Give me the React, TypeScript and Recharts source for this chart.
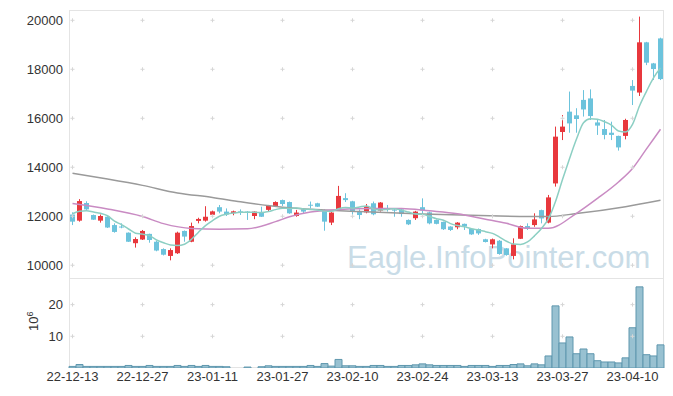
import React from 'react';
import { ComposedChart, BarChart, Bar, Line, XAxis, YAxis, ReferenceDot } from 'recharts';

// trading days, 22-12-13 .. 23-04-14
const dates = [
  '22-12-13', '22-12-14', '22-12-15', '22-12-16', '22-12-19', '22-12-20', '22-12-21', '22-12-22', '22-12-23', '22-12-26',
  '22-12-27', '22-12-28', '22-12-29', '23-01-02', '23-01-03', '23-01-04', '23-01-05', '23-01-06', '23-01-09', '23-01-10',
  '23-01-11', '23-01-12', '23-01-13', '23-01-16', '23-01-17', '23-01-18', '23-01-19', '23-01-20', '23-01-25', '23-01-26',
  '23-01-27', '23-01-30', '23-01-31', '23-02-01', '23-02-02', '23-02-03', '23-02-06', '23-02-07', '23-02-08', '23-02-09',
  '23-02-10', '23-02-13', '23-02-14', '23-02-15', '23-02-16', '23-02-17', '23-02-20', '23-02-21', '23-02-22', '23-02-23',
  '23-02-24', '23-02-27', '23-02-28', '23-03-02', '23-03-03', '23-03-06', '23-03-07', '23-03-08', '23-03-09', '23-03-10',
  '23-03-13', '23-03-14', '23-03-15', '23-03-16', '23-03-17', '23-03-20', '23-03-21', '23-03-22', '23-03-23', '23-03-24',
  '23-03-27', '23-03-28', '23-03-29', '23-03-30', '23-03-31', '23-04-03', '23-04-04', '23-04-05', '23-04-06', '23-04-07',
  '23-04-10', '23-04-11', '23-04-12', '23-04-13', '23-04-14',
];

const opens = [
  12070, 11820, 12540, 12050, 11820, 11980, 11640, 11580, 11330, 10900,
  11050, 11280, 10960, 10660, 10380, 10490, 11400, 10960, 11810, 11820,
  12060, 12370, 12190, 12130, 12200, 12190, 12010, 12160, 12260, 12420,
  12660, 12580, 12010, 12280, 12470, 12530, 12230, 11740, 12280, 12740,
  12610, 12190, 12160, 12530, 12230, 12310, 12270, 12280, 11850, 11920,
  12370, 12160, 11850, 11770, 11580, 11550, 11690, 11480, 11480, 11060,
  10850, 11000, 10690, 10380, 11080, 11600, 11640, 12250, 11740, 13340,
  15440, 16270, 16120, 16750, 16810, 15830, 15560, 15410, 15280, 15280,
  17320, 17050, 19100, 18240, 19260,
];
const highs = [
  12160, 12700, 12610, 12070, 12070, 12000, 11710, 11710, 11340, 11140,
  11440, 11290, 10990, 10690, 10690, 11370, 11420, 11740, 11940, 12410,
  12230, 12460, 12320, 12230, 12280, 12210, 12200, 12390, 12460, 12610,
  12680, 12600, 12260, 12320, 12600, 12550, 12280, 12170, 13240, 12940,
  12630, 12280, 12500, 12600, 12580, 12460, 12290, 12320, 11870, 12220,
  12730, 12190, 11870, 11780, 11590, 11760, 11700, 11500, 11500, 11080,
  11090, 11030, 10700, 11100, 11620, 11710, 12120, 12270, 12870, 15660,
  16130, 17090, 16410, 17150, 17180, 15960, 15930, 15860, 15290, 15980,
  17560, 20150, 19120, 18260, 19290,
];
const lows = [
  11640, 11780, 12260, 11850, 11740, 11520, 11330, 11510, 10950, 10720,
  11030, 10920, 10570, 10400, 10200, 10460, 10960, 10940, 11710, 11780,
  12020, 12120, 12010, 12040, 12050, 11850, 11880, 11970, 12190, 12380,
  12420, 12100, 11980, 12120, 12320, 12380, 11410, 11640, 12260, 12580,
  11960, 11880, 12120, 12040, 12190, 12190, 11980, 11980, 11640, 11850,
  12050, 11670, 11670, 11440, 11400, 11470, 11440, 11240, 11240, 10930,
  10690, 10430, 10390, 10240, 11070, 11440, 11570, 11710, 11710, 13210,
  15110, 15410, 15410, 16070, 15930, 15320, 15140, 15110, 14680, 15140,
  16540, 16910, 18170, 17560, 17560,
];
const closes = [
  11780, 12620, 12280, 11860, 12010, 11540, 11360, 11560, 10960, 11070,
  11400, 11030, 10600, 10430, 10620, 11330, 11170, 11600, 11890, 11980,
  12200, 12190, 12070, 12200, 12170, 12160, 12190, 11980, 12420, 12580,
  12500, 12120, 12150, 12190, 12440, 12390, 11780, 12150, 12830, 12660,
  12190, 12050, 12410, 12080, 12560, 12280, 12240, 12090, 11670, 12190,
  12230, 11710, 11690, 11470, 11440, 11740, 11580, 11260, 11300, 10950,
  11060, 10460, 10420, 10850, 11600, 11510, 11870, 11910, 12770, 15250,
  15660, 15790, 15970, 16360, 16090, 15700, 15320, 15320, 14810, 15930,
  17130, 19100, 18270, 18010, 17600,
];

// volume, millions of shares
const volumes = [
  0.5, 1.1, 0.5, 0.5, 0.5, 0.5, 0.5, 0.5, 0.8, 0.5,
  0.5, 0.8, 0.5, 0.5, 0.5, 0.8, 0.5, 0.8, 0.5, 0.8,
  0.5, 0.5, 0.4, 0, 0, 0.3, 0, 0.4, 0.7, 0.5,
  0.5, 0.5, 0.5, 0.5, 0.8, 0.5, 1.4, 0.6, 2.7, 0.7,
  0.7, 0.5, 0.5, 0.8, 0.8, 0.5, 0.5, 0.8, 0.8, 1.0,
  1.3, 1.0, 0.8, 0.8, 0.8, 0.8, 0.5, 0.8, 0.8, 0.8,
  0.5, 0.8, 0.8, 1.1, 1.3, 0.7, 1.3, 1.0, 3.8, 19.6,
  7.9, 9.8, 4.5, 6.0, 4.5, 2.3, 1.9, 1.9, 1.6, 3.2,
  12.7, 25.6, 4.2, 3.8, 7.3,
];

// 5-day average (teal)
const ma5 = [
  12100, 12200, 12220, 12170, 12120, 12020, 11800, 11660, 11480, 11310,
  11270, 11210, 11030, 10920, 10830, 10810, 10860, 11060, 11350, 11620,
  11820, 12000, 12080, 12130, 12160, 12160, 12160, 12150, 12190, 12270,
  12330, 12320, 12340, 12300, 12280, 12260, 12200, 12200, 12310, 12360,
  12330, 12380, 12420, 12300, 12260, 12280, 12310, 12250, 12170, 12090,
  12080, 11990, 11900, 11840, 11700, 11620, 11570, 11490, 11440, 11370,
  11300, 11150, 10980, 10870, 10850, 10950, 11200, 11500, 11900, 12600,
  13500, 14350, 15150, 15820, 15980, 15960, 15860, 15720, 15480, 15440,
  15750, 16500, 17100, 17650, 18050,
];

// 20-day (purple) and long (gray) averages, read at [day index, value]
const ma20Knots: [number, number][] = [
  [0, 12520], [5, 12300], [10, 11990], [13, 11700], [17, 11500], [21, 11470], [25, 11490],
  [29, 11780], [31, 11980], [34, 12170], [37, 12260], [43, 12320], [47, 12320], [51, 12220],
  [55, 12100], [59, 11880], [62, 11710], [65, 11510], [68, 11510], [72, 12120], [75, 12730],
  [78, 13400], [80, 13950], [82, 14750], [84, 15550],
];
const ma60Knots: [number, number][] = [
  [0, 13755], [5, 13520], [10, 13260], [15, 12950], [20, 12770], [24, 12590], [30, 12370],
  [36, 12260], [41, 12190], [50, 12090], [61, 12010], [68, 11990], [72, 12110], [79, 12390],
  [84, 12650],
];

const priceTicks = [10000, 12000, 14000, 16000, 18000, 20000];
const volumeTicks = [10, 20];
const tickDates = ['22-12-13', '22-12-27', '23-01-11', '23-01-27', '23-02-10', '23-02-24', '23-03-13', '23-03-27', '23-04-10'];

const knotAt = (knots: [number, number][], i: number) => {
  const k = knots.find((p) => p[0] === i);
  return k ? k[1] : null;
};

const rows = dates.map((date, i) => ({
  date,
  open: opens[i],
  high: highs[i],
  low: lows[i],
  close: closes[i],
  volume: volumes[i],
  ma5: ma5[i],
  ma20: knotAt(ma20Knots, i),
  ma60: knotAt(ma60Knots, i),
}));

const UP = '#e8383d';
const DOWN = '#6cc3dc';
const FONT = '"Liberation Sans", Arial, sans-serif';
const tickStyle = { fill: '#333', fontSize: 13, fontFamily: FONT };

const Candle = (props: any) => {
  const { x, y, width, height, payload } = props;
  const { open, close, high, low } = payload;
  const k = height / (high - low || 1);
  const yo = y + (high - open) * k;
  const yc = y + (high - close) * k;
  const color = close >= open ? UP : DOWN;
  const mid = x + width / 2;
  return (
    <g>
      <line x1={mid} x2={mid} y1={y} y2={y + height} stroke={color} strokeWidth={1} />
      <rect x={x} y={Math.min(yo, yc)} width={width} height={Math.max(1, Math.abs(yo - yc))} fill={color} />
    </g>
  );
};

const Cross = (p: any) => (
  <path d={`M${p.cx - 2},${p.cy}h4M${p.cx},${p.cy - 2}v4`} stroke="#d6d6d6" strokeWidth={1} fill="none" />
);

const crosses = (yValues: number[], prefix: string) =>
  tickDates.flatMap((d) =>
    yValues.map((v) => <ReferenceDot key={`${prefix}-${d}-${v}`} x={d} y={v} r={0} shape={Cross} />)
  );

const App: React.FC = () => {
  return (
    <div style={{ position: 'absolute', left: 0, top: 0, width: 673, height: 396, background: '#fff' }}>
      {/* panel frames */}
      <div style={{ position: 'absolute', left: 69, top: 10, width: 595, height: 269, border: '1px solid #e4e4e4', boxSizing: 'border-box' }} />
      <div style={{ position: 'absolute', left: 69, top: 278, width: 595, height: 90, border: '1px solid #e4e4e4', boxSizing: 'border-box' }} />

      <svg width={673} height={396} style={{ position: 'absolute', left: 0, top: 0 }}>
        <text x={347} y={268} fontSize={31} fontFamily={FONT} fill="#c9dce7">Eagle.InfoPointer.com</text>
        <text transform="translate(37.5, 331) rotate(-90)" fontSize={13} fontFamily={FONT} fill="#333">
          10<tspan dy={-5} fontSize={9}>6</tspan>
        </text>
      </svg>

      <div style={{ position: 'absolute', left: 0, top: 0 }}>
        <ComposedChart width={673} height={278} data={rows} margin={{ top: 10, right: 9, bottom: 1, left: 0 }} barSize={5}>
          <XAxis dataKey="date" hide />
          <YAxis
            domain={[9520, 20420]}
            allowDataOverflow
            ticks={priceTicks}
            width={69}
            axisLine={false}
            tickLine={false}
            tickSize={0}
            tickMargin={6}
            tick={tickStyle}
          />
          {crosses(priceTicks, 'p')}
          <Bar dataKey={(d: any) => [d.low, d.high]} shape={<Candle />} isAnimationActive={false} />
          <Line type="monotone" dataKey="ma60" stroke="#9a9a9a" strokeWidth={1.5} dot={false} connectNulls isAnimationActive={false} />
          <Line type="monotone" dataKey="ma20" stroke="#c98bc3" strokeWidth={1.5} dot={false} connectNulls isAnimationActive={false} />
          <Line type="monotone" dataKey="ma5" stroke="#8ccfc3" strokeWidth={1.5} dot={false} isAnimationActive={false} />
        </ComposedChart>
      </div>

      <div style={{ position: 'absolute', left: 0, top: 278 }}>
        <BarChart width={673} height={118} data={rows} margin={{ top: 0, right: 9, bottom: 0, left: 0 }} barCategoryGap={0}>
          <XAxis
            dataKey="date"
            ticks={tickDates}
            interval={0}
            height={28}
            axisLine={false}
            tickLine={false}
            tickSize={0}
            tickMargin={4}
            tick={tickStyle}
          />
          <YAxis
            domain={[0, 28.4]}
            allowDataOverflow
            ticks={volumeTicks}
            width={69}
            axisLine={false}
            tickLine={false}
            tickSize={0}
            tickMargin={6}
            tick={tickStyle}
          />
          {crosses(volumeTicks, 'v')}
          <Bar dataKey="volume" fill="#98c1d1" stroke="#5f97ae" strokeWidth={1} isAnimationActive={false} />
        </BarChart>
      </div>
    </div>
  );
};

export default App;
